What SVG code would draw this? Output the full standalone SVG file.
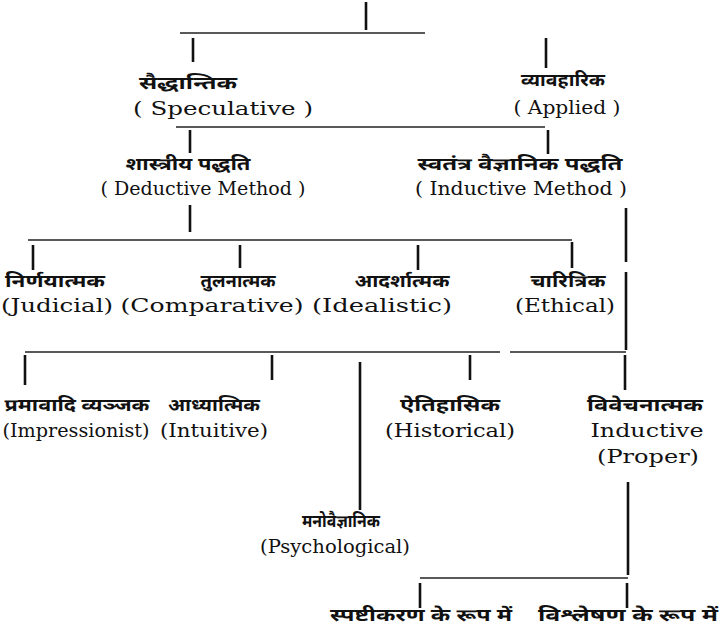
<svg xmlns="http://www.w3.org/2000/svg" width="724" height="633" viewBox="0 0 724 633">
<style>
.bg{fill:#fff}
.hi{font-family:"Noto Sans Devanagari","Lohit Devanagari","Noto Sans",sans-serif;font-size:17px;font-weight:bold;fill:#111;text-anchor:middle}
.en{font-family:"DejaVu Serif","Liberation Serif",serif;font-size:19px;fill:#111;text-anchor:middle}
.h{stroke:#222;stroke-width:1.5;fill:none}
.v{stroke:#111;stroke-width:2.6;fill:none}
</style>
<rect class="bg" width="724" height="633"/>
<g id="connectors">
<line class="v" x1="366" y1="2" x2="366" y2="30"/>
<line class="h" x1="180" y1="33" x2="425" y2="33"/>
<line class="v" x1="193" y1="38" x2="193" y2="62"/>
<line class="v" x1="546" y1="38" x2="546" y2="68"/>
<line class="h" x1="176" y1="127" x2="545" y2="127"/>
<line class="v" x1="190" y1="130" x2="190" y2="153"/>
<line class="v" x1="548" y1="130" x2="548" y2="154"/>
<line class="v" x1="190" y1="205" x2="190" y2="232"/>
<line class="h" x1="28" y1="240" x2="572" y2="240"/>
<line class="v" x1="33" y1="245" x2="33" y2="270"/>
<line class="v" x1="240" y1="245" x2="240" y2="268"/>
<line class="v" x1="418" y1="245" x2="418" y2="270"/>
<line class="v" x1="572" y1="242" x2="572" y2="268"/>
<line class="v" x1="626" y1="208" x2="626" y2="262"/>
<line class="v" x1="626" y1="272" x2="626" y2="350"/>
<line class="h" x1="25" y1="352" x2="500" y2="352"/>
<line class="h" x1="510" y1="352" x2="626" y2="352"/>
<line class="v" x1="25" y1="355" x2="25" y2="385"/>
<line class="v" x1="272" y1="355" x2="272" y2="380"/>
<line class="v" x1="360" y1="362" x2="360" y2="510"/>
<line class="v" x1="470" y1="355" x2="470" y2="380"/>
<line class="v" x1="625" y1="355" x2="625" y2="390"/>
<line class="v" x1="628" y1="482" x2="628" y2="575"/>
<line class="h" x1="420" y1="578" x2="628" y2="578"/>
<line class="v" x1="420" y1="583" x2="420" y2="608"/>
<line class="v" x1="627" y1="583" x2="627" y2="608"/>
</g>
<g id="speculative">
<text class="hi" x="188" y="89" textLength="98" lengthAdjust="spacingAndGlyphs">सैद्धान्तिक</text>
<text class="en" x="223" y="115" textLength="180" lengthAdjust="spacingAndGlyphs">( Speculative )</text>
</g>
<g id="applied">
<text class="hi" x="563" y="86" textLength="84" lengthAdjust="spacingAndGlyphs">व्यावहारिक</text>
<text class="en" x="567" y="114" textLength="107" lengthAdjust="spacingAndGlyphs">( Applied )</text>
</g>
<g id="deductive">
<text class="hi" x="188" y="170" textLength="125" lengthAdjust="spacingAndGlyphs">शास्त्रीय पद्धति</text>
<text class="en" x="203" y="195" textLength="205" lengthAdjust="spacingAndGlyphs">( Deductive Method )</text>
</g>
<g id="inductive">
<text class="hi" x="520" y="170" textLength="205" lengthAdjust="spacingAndGlyphs">स्वतंत्र वैज्ञानिक  पद्धति</text>
<text class="en" x="521" y="195" textLength="212" lengthAdjust="spacingAndGlyphs">( Inductive Method )</text>
</g>
<g id="judicial">
<text class="hi" x="55" y="287" textLength="100" lengthAdjust="spacingAndGlyphs">निर्णयात्मक</text>
<text class="en" x="57" y="312" textLength="112" lengthAdjust="spacingAndGlyphs">(Judicial)</text>
</g>
<g id="comparative">
<text class="hi" x="238" y="287" textLength="75" lengthAdjust="spacingAndGlyphs">तुलनात्मक</text>
<text class="en" x="212" y="312" textLength="183" lengthAdjust="spacingAndGlyphs">(Comparative)</text>
</g>
<g id="idealistic">
<text class="hi" x="402" y="287" textLength="95" lengthAdjust="spacingAndGlyphs">आदर्शात्मक</text>
<text class="en" x="382" y="312" textLength="140" lengthAdjust="spacingAndGlyphs">(Idealistic)</text>
</g>
<g id="ethical">
<text class="hi" x="568" y="287" textLength="75" lengthAdjust="spacingAndGlyphs">चारित्रिक</text>
<text class="en" x="565" y="312" textLength="100" lengthAdjust="spacingAndGlyphs">(Ethical)</text>
</g>
<g id="impressionist">
<text class="hi" x="77" y="411" textLength="145" lengthAdjust="spacingAndGlyphs">प्रमावादि व्यञ्जक</text>
<text class="en" x="76" y="437" textLength="147" lengthAdjust="spacingAndGlyphs">(Impressionist)</text>
</g>
<g id="intuitive">
<text class="hi" x="214" y="411" textLength="92" lengthAdjust="spacingAndGlyphs">आध्यात्मिक</text>
<text class="en" x="214" y="437" textLength="108" lengthAdjust="spacingAndGlyphs">(Intuitive)</text>
</g>
<g id="historical">
<text class="hi" x="450" y="411" textLength="100" lengthAdjust="spacingAndGlyphs">ऐतिहासिक</text>
<text class="en" x="450" y="437" textLength="130" lengthAdjust="spacingAndGlyphs">(Historical)</text>
</g>
<g id="proper">
<text class="hi" x="645" y="411" textLength="116" lengthAdjust="spacingAndGlyphs">विवेचनात्मक</text>
<text class="en" x="647" y="437" textLength="113" lengthAdjust="spacingAndGlyphs">Inductive</text>
<text class="en" x="648" y="463" textLength="102" lengthAdjust="spacingAndGlyphs">(Proper)</text>
</g>
<g id="psychological">
<text class="hi" x="341" y="527" textLength="78" lengthAdjust="spacingAndGlyphs">मनोवैज्ञानिक</text>
<text class="en" x="335" y="553" textLength="150" lengthAdjust="spacingAndGlyphs">(Psychological)</text>
</g>
<g id="explanation">
<text class="hi" x="421" y="621" textLength="182" lengthAdjust="spacingAndGlyphs">स्पष्टीकरण के रूप में</text>
</g>
<g id="analysis">
<text class="hi" x="628" y="621" textLength="180" lengthAdjust="spacingAndGlyphs">विश्लेषण के रूप में</text>
</g>
</svg>
